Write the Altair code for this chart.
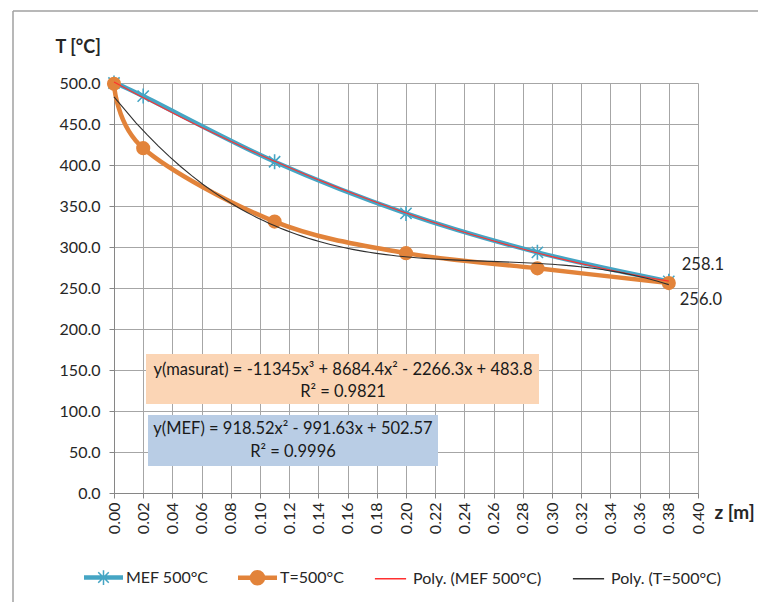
import altair as alt
import pandas as pd

# ---- data ----
z_vals = [0.00, 0.02, 0.11, 0.20, 0.29, 0.38]
t_mef = [500.0, 484.0, 404.0, 341.0, 293.5, 258.1]
t_meas = [499.0, 420.5, 331.0, 292.5, 274.0, 256.0]

series_names = ["MEF 500°C", "T=500°C", "Poly. (MEF 500°C)", "Poly. (T=500°C)"]
series_colors = ["#45A5C4", "#E2833A", "#FF3030", "#303030"]

x_tick_values = [0.00, 0.02, 0.04, 0.06, 0.08, 0.10, 0.12, 0.14, 0.16, 0.18, 0.20,
                 0.22, 0.24, 0.26, 0.28, 0.30, 0.32, 0.34, 0.36, 0.38, 0.40]
y_tick_values = [0, 50, 100, 150, 200, 250, 300, 350, 400, 450, 500]

eq_masurat = ["y(masurat) = -11345x³ + 8684.4x² - 2266.3x + 483.8", "R² = 0.9821"]
eq_mef = ["y(MEF) = 918.52x² - 991.63x + 502.57", "R² = 0.9996"]

df_mef = pd.DataFrame({"z": z_vals, "T": t_mef, "series": series_names[0]})
df_meas = pd.DataFrame({"z": z_vals, "T": t_meas, "series": series_names[1]})
df_legend = pd.DataFrame({"series": series_names})

FONT = "Lato"
TXT = "#262626"
BLUE, ORANGE, RED, DARK = series_colors

x_axis = alt.Axis(values=x_tick_values, format=".2f", labelAngle=-90, labelFontSize=16,
                  labelColor=TXT, labelPadding=4, labelOverlap=False, tickSize=5,
                  tickColor="#868686", domainColor="#868686", gridColor="#A6A6A6",
                  title="z [m]", titleFontSize=19, titleFontWeight="bold", titleColor=TXT,
                  titleAngle=0, titleAlign="left", titleBaseline="middle",
                  titleX=600, titleY=19)
y_axis = alt.Axis(values=y_tick_values, format=".1f", labelFontSize=16, labelColor=TXT,
                  labelPadding=9, tickSize=5, tickColor="#868686", domainColor="#868686",
                  gridColor="#A6A6A6", title="T [°C]", titleFontSize=18,
                  titleFontWeight="bold", titleColor=TXT, titleAngle=0, titleAlign="left",
                  titleBaseline="middle", titleX=-59, titleY=-36)

X = alt.X("z:Q", scale=alt.Scale(domain=[0, 0.4], nice=False), axis=x_axis)
Y = alt.Y("T:Q", scale=alt.Scale(domain=[0, 500], nice=False), axis=y_axis)

# legend symbols drawn as stroke-only paths (unit = half symbol width)
thick = "".join("M-1,{0}L1,{0}".format(o) for o in (-0.075, -0.037, 0, 0.037, 0.075))
star = "M0,-0.38L0,0.38M-0.27,-0.27L0.27,0.27M-0.27,0.27L0.27,-0.27"
disc = "".join("M-{0},0A{0},{0} 0 1,1 {0},0A{0},{0} 0 1,1 -{0},0".format(r)
               for r in (0.36, 0.3, 0.24, 0.18, 0.12, 0.07, 0.03))
thin = "M-0.8,0L0.8,0"
legend_shapes = [thick + star, thick + disc, thin, thin]

legend = alt.Legend(
    title=None, orient="none", direction="horizontal", legendX=-31, legendY=474,
    symbolSize=1521, labelFontSize=16, labelColor=TXT, labelOffset=2,
    columnPadding=26, padding=0, symbolStrokeWidth=1.5,
)

legend_layer = alt.Chart(df_legend).transform_filter("false").mark_point(
    filled=False, strokeWidth=1.5, opacity=1).encode(
    color=alt.Color("series:N", scale=alt.Scale(domain=series_names, range=series_colors),
                    legend=legend),
    shape=alt.Shape("series:N", scale=alt.Scale(domain=series_names, range=legend_shapes),
                    legend=legend),
)

line_mef = alt.Chart(df_mef).mark_line(interpolate="cardinal", strokeWidth=4.5,
                                       color=BLUE).encode(x=X, y=Y)
line_meas = alt.Chart(df_meas).mark_line(interpolate="cardinal", strokeWidth=4.5,
                                         color=ORANGE).encode(x=X, y=Y)

asterisk = "M0,-1L0,1M-0.75,-0.75L0.75,0.75M-0.75,0.75L0.75,-0.75"
mef_pts = alt.Chart(df_mef).mark_point(shape=asterisk, filled=False, size=225,
                                       strokeWidth=1.6, color=BLUE, opacity=1).encode(x=X, y=Y)
meas_pts = alt.Chart(df_meas).mark_point(shape="circle", filled=True, size=200,
                                         color=ORANGE, opacity=1).encode(x=X, y=Y)

trend_mef = alt.Chart(df_mef).transform_regression(
    "z", "T", method="poly", order=2).mark_line(color=RED, strokeWidth=1.1).encode(x=X, y=Y)
trend_meas = alt.Chart(df_meas).transform_regression(
    "z", "T", method="poly", order=3).mark_line(color=DARK, strokeWidth=1.1).encode(x=X, y=Y)

lbl_mef = alt.Chart(df_mef.tail(1)).mark_text(
    align="left", baseline="middle", dx=13, dy=-16, fontSize=16.5, color=TXT).encode(
    x=X, y=Y, text=alt.Text("T:Q", format=".1f"))
lbl_meas = alt.Chart(df_meas.tail(1)).mark_text(
    align="left", baseline="middle", dx=11, dy=17, fontSize=16.5, color=TXT).encode(
    x=X, y=Y, text=alt.Text("T:Q", format=".1f"))

one = pd.DataFrame({"k": [0]})
box1 = alt.Chart(one).mark_rect(fill="#FBD5B5").encode(
    x=alt.value(32), x2=alt.value(425), y=alt.value(271), y2=alt.value(321))
box2 = alt.Chart(one).mark_rect(fill="#B9CDE5").encode(
    x=alt.value(34), x2=alt.value(324), y=alt.value(332), y2=alt.value(383))


def eq_text(txt, xv, yv):
    return alt.Chart(one).mark_text(text=txt, fontSize=16.5, color="#1a1a1a",
                                    align="center", baseline="middle").encode(
        x=alt.value(xv), y=alt.value(yv))


t1a = eq_text(eq_masurat[0], 229, 287)
t1b = eq_text(eq_masurat[1], 229, 309)
t2a = eq_text(eq_mef[0], 179, 346)
t2b = eq_text(eq_mef[1], 179, 369)

frame_top = alt.Chart(one).mark_rule(color="#A0A0A0", strokeWidth=1.5).encode(
    x=alt.value(-101), x2=alt.value(660), y=alt.value(-72))
frame_left = alt.Chart(one).mark_rule(color="#A0A0A0", strokeWidth=1.5).encode(
    x=alt.value(-101), y=alt.value(-72), y2=alt.value(530))

chart = alt.layer(
    frame_top, frame_left,
    line_mef, mef_pts, line_meas, meas_pts, trend_mef, trend_meas,
    box1, box2, t1a, t1b, t2a, t2b, lbl_mef, lbl_meas, legend_layer,
).properties(
    width=584, height=410,
    padding={"left": 114, "top": 83, "right": 60, "bottom": 109},
    autosize=alt.AutoSizeParams(type="none"),
    background="white",
).configure(font=FONT).configure_view(stroke=None)

chart.save("out.html", embed_options={"renderer": "svg", "actions": False})
